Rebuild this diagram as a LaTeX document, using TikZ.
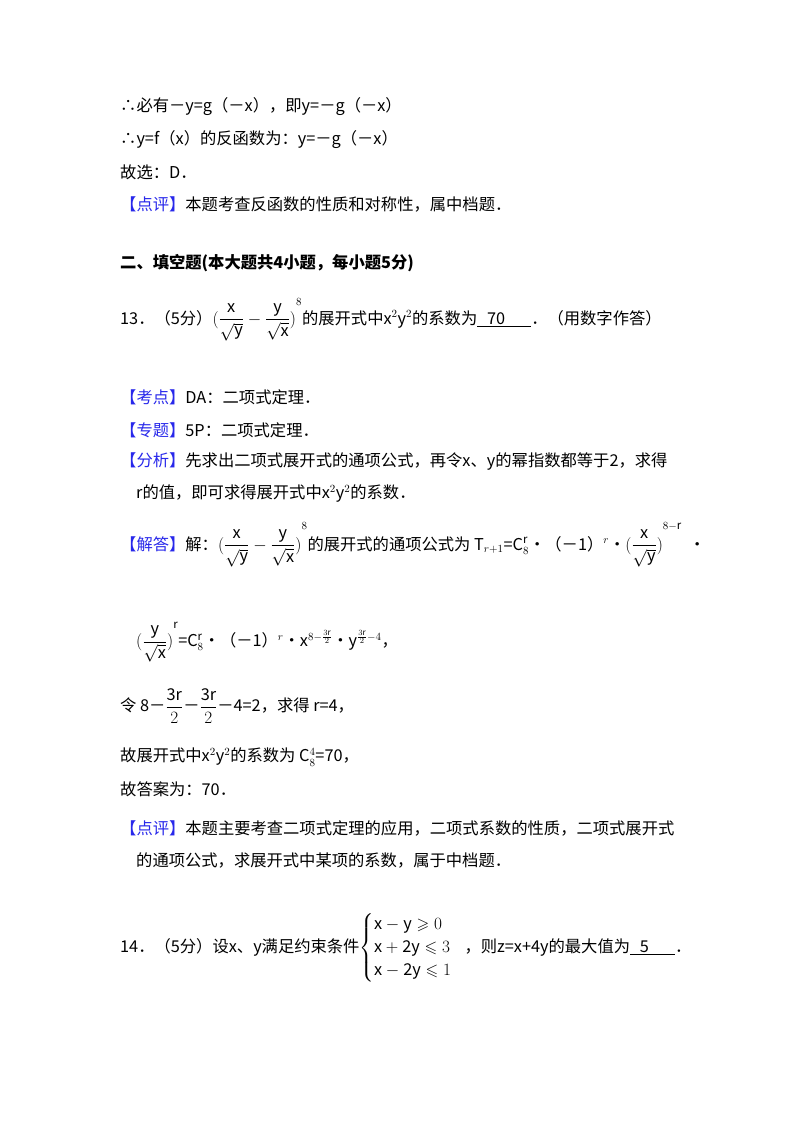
\documentclass[tikz,border=0pt]{standalone}
\usepackage{amsmath,amssymb}
\usepackage{fontspec}
\setmainfont{Noto Sans CJK SC}
\newfontfamily\lat{Carlito}
\definecolor{kblue}{RGB}{40,40,235}
\newcommand{\kb}[1]{\textcolor{kblue}{【#1】}}
\newcommand{\blank}[1]{\underline{\hspace{0.6em}#1\hspace{1.6em}}}
\newcommand{\fr}[2]{\dfrac{\mathrm{#1}}{#2}}
\begin{document}
\begin{tikzpicture}[x=1pt,y=-1pt,
  ln/.style={anchor=west,inner sep=0pt,font=\fontsize{16.3}{19}\selectfont}]
\useasboundingbox[fill=white] (0,0) rectangle (800,1133);
\node[ln] (l1) at (120,107) {∴必有－y=g（－x），即y=－g（－x）};
\node[ln] (l2) at (120,140) {∴y=f（x）的反函数为：y=－g（－x）};
\node[ln] (l3) at (120,172) {故选：D．};
\node[ln] (l4) at (120,204) {\kb{点评}本题考查反函数的性质和对称性，属中档题．};
\node[ln] (l5) at (120,263) {\textbf{二、填空题(本大题共4小题，每小题5分)}};
\node[ln] (l6) at (120,320) {13．（5分）$(\fr{x}{\sqrt{\mathrm{y}}}-\fr{y}{\sqrt{\mathrm{x}}})^{\raisebox{12pt}{$\scriptstyle 8$}}$的展开式中x$^2$y$^2$的系数为\blank{70}．（用数字作答）};
\node[ln] (l7) at (120,397) {\kb{考点}DA：二项式定理．};
\node[ln] (l8) at (120,430) {\kb{专题}5P：二项式定理．};
\node[ln] (l9) at (120,462) {\kb{分析}先求出二项式展开式的通项公式，再令x、y的幂指数都等于2，求得};
\node[ln] (l10) at (136,494) {r的值，即可求得展开式中x$^2$y$^2$的系数．};
\node[ln] (l11) at (120,545) {\kb{解答}解：$(\fr{x}{\sqrt{\mathrm{y}}}-\fr{y}{\sqrt{\mathrm{x}}})^{\raisebox{14pt}{$\scriptstyle 8$}}$的展开式的通项公式为 T$_{r+1}$=$\mathrm{C}_8^{\mathrm{r}}$•（－1）$^r$•$(\fr{x}{\sqrt{\mathrm{y}}})^{\raisebox{14pt}{$\scriptstyle 8-\mathrm{r}$}}$\ \ •};
\node[ln] (l12) at (136,642) {$(\fr{y}{\sqrt{\mathrm{x}}})^{\raisebox{12pt}{$\scriptstyle \mathrm{r}$}}$=$\mathrm{C}_8^{\mathrm{r}}$•（－1）$^r$•$\mathrm{x}^{8-\frac{3\mathrm{r}}{2}}$•$\mathrm{y}^{\frac{3\mathrm{r}}{2}-4}$，};
\node[ln] (l13) at (120,706) {令 8－$\fr{3r}{2}$－$\fr{3r}{2}$－4=2，求得 r=4，};
\node[ln] (l14) at (120,757) {故展开式中x$^2$y$^2$的系数为 $\mathrm{C}_8^4$=70，};
\node[ln] (l15) at (120,789) {故答案为：70．};
\node[ln] (l16) at (120,828) {\kb{点评}本题主要考查二项式定理的应用，二项式系数的性质，二项式展开式};
\node[ln] (l17) at (136,860) {的通项公式，求展开式中某项的系数，属于中档题．};
\node[ln] (l18) at (120,948) {14．（5分）设x、y满足约束条件$\begin{cases}\mathrm{x-y}\geqslant 0\\ \mathrm{x+2y}\leqslant 3\\ \mathrm{x-2y}\leqslant 1\end{cases}$\hspace{-4pt}，则z=x+4y的最大值为\blank{5}．};
\end{tikzpicture}
\end{document}
